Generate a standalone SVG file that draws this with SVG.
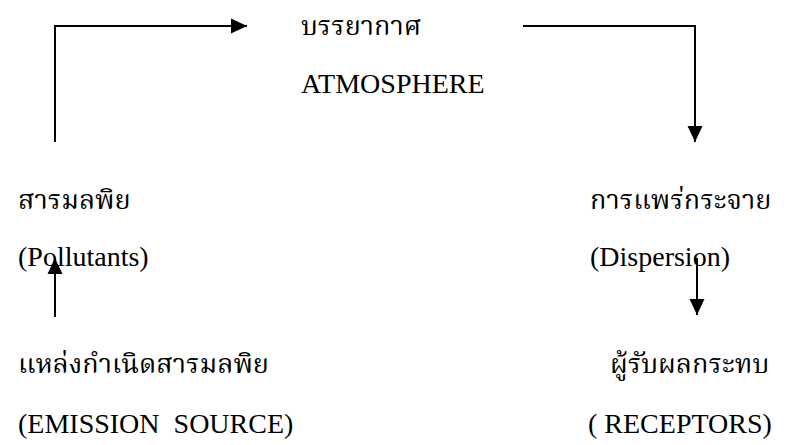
<svg xmlns="http://www.w3.org/2000/svg" width="791" height="445" viewBox="0 0 791 445">
  <style>
    text { font-family: "Liberation Serif", "Noto Serif Thai", "Noto Sans Thai", serif; font-size: 28px; fill: #000; white-space: pre; }
    .th { font-size: 27px; }
    .line { fill: none; stroke: #000; stroke-width: 2; }
  </style>
  <defs>
    <marker id="arrow" viewBox="0 0 16 16" refX="16" refY="8" markerWidth="16" markerHeight="16" markerUnits="userSpaceOnUse" orient="auto">
      <path d="M0,0.5 L16,8 L0,15.5 Z" fill="#000"/>
    </marker>
  </defs>
  <rect width="791" height="445" fill="#fff"/>

  <g id="connectors">
    <path class="line" d="M55,142 V26 H247" marker-end="url(#arrow)"/>
    <path class="line" d="M523,26 H695 V142" marker-end="url(#arrow)"/>
    <path class="line" d="M55,317 V258" marker-end="url(#arrow)"/>
    <path class="line" d="M697,258 V315" marker-end="url(#arrow)"/>
  </g>

  <g id="atmosphere">
    <text class="th" x="301" y="35">บรรยากาศ</text>
    <text x="301" y="93">ATMOSPHERE</text>
  </g>
  <g id="pollutants">
    <text class="th" x="18" y="209">สารมลพิย</text>
    <text x="18" y="266">(Pollutants)</text>
  </g>
  <g id="dispersion">
    <text class="th" x="590" y="209">การแพร่กระจาย</text>
    <text x="590" y="266">(Dispersion)</text>
  </g>
  <g id="emission-source">
    <text class="th" x="18" y="373">แหล่งกำเนิดสารมลพิย</text>
    <text x="18" y="433">(EMISSION  SOURCE)</text>
  </g>
  <g id="receptors">
    <text class="th" x="610" y="373">ผู้รับผลกระทบ</text>
    <text x="588" y="433">( RECEPTORS)</text>
  </g>
</svg>
